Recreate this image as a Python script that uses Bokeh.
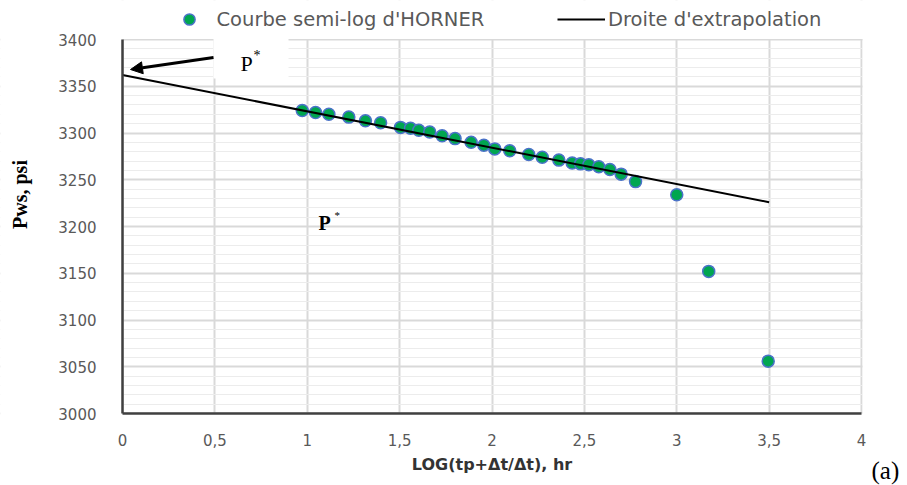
import math
from bokeh.plotting import figure
from bokeh.models import (Range1d, FixedTicker, Legend, LegendItem, Label,
                          BoxAnnotation, Arrow, NormalHead, ColumnDataSource)
from bokeh.embed import file_html
from bokeh.resources import INLINE

# ---- data ----
horner_x = [0.973, 1.045, 1.117, 1.225, 1.315, 1.397, 1.505, 1.559, 1.604, 1.663,
            1.730, 1.800, 1.887, 1.956, 2.015, 2.096, 2.199, 2.272, 2.362, 2.434,
            2.479, 2.524, 2.578, 2.638, 2.699, 2.777, 3.000, 3.173, 3.495]
horner_y = [3324, 3322, 3320, 3317, 3313, 3311, 3306, 3305, 3303, 3301,
            3297, 3294, 3290, 3287, 3283, 3281, 3277, 3274, 3271, 3268,
            3267, 3266, 3264, 3261, 3256, 3248, 3234, 3152, 3056]
line_x = [0.0, 3.5]
line_y = [3362, 3226]

x_ticks = [0, 0.5, 1, 1.5, 2, 2.5, 3, 3.5, 4]
x_tick_labels = ["0", "0,5", "1", "1,5", "2", "2,5", "3", "3,5", "4"]
y_ticks = [3000, 3050, 3100, 3150, 3200, 3250, 3300, 3350, 3400]
y_minor_ticks = list(range(3000, 3401, 10))

series_names = ["Courbe semi-log d'HORNER", "Droite d'extrapolation"]
x_title = "LOG(tp+\u0394t/\u0394t), hr"
y_title = "Pws, psi"
panel_tag = "(a)"

# ---- layout: the frame covers the whole canvas, axes are pinned inside ----
W, H = 907, 485
plot_left, plot_right, plot_top, plot_bottom = 122, 861, 39, 413   # pixels
x0, x1 = x_ticks[0], x_ticks[-1]
y0, y1 = y_ticks[0], y_ticks[-1]
ppx = (plot_right - plot_left) / (x1 - x0)
ppy = (plot_bottom - plot_top) / (y1 - y0)
xr = Range1d(x0 - plot_left / ppx, x1 + (W - plot_right) / ppx)
yr = Range1d(y0 - (H - plot_bottom) / ppy, y1 + plot_top / ppy)


def px_to_x(px):
    return x0 + (px - plot_left) / ppx


def px_to_y(py):
    return y1 - (py - plot_top) / ppy


p = figure(width=W, height=H, output_backend="svg", toolbar_location=None,
           x_range=xr, y_range=yr, min_border=0)
p.outline_line_color = None
p.background_fill_color = "white"
p.border_fill_color = "white"

# grids
p.xgrid.ticker = FixedTicker(ticks=x_ticks)
p.xgrid.grid_line_color = "#d9d9d9"
p.xgrid.grid_line_width = 2
p.ygrid.ticker = FixedTicker(ticks=y_ticks, minor_ticks=y_minor_ticks)
p.ygrid.grid_line_color = "#d9d9d9"
p.ygrid.grid_line_width = 2
p.ygrid.minor_grid_line_color = "#ececec"
p.ygrid.minor_grid_line_width = 1

# white masks so the grid only shows inside the plot area
for kw in (dict(right=x0), dict(left=x1 + 0.006), dict(bottom=y1 + 0.6), dict(top=y0)):
    p.add_layout(BoxAnnotation(fill_color="white", fill_alpha=1.0,
                               line_color=None, level="underlay", **kw))

# axes
xa = p.xaxis[0]
xa.ticker = FixedTicker(ticks=x_ticks)
xa.major_label_overrides = {t: l for t, l in zip(x_ticks, x_tick_labels)}
xa.fixed_location = y0
xa.bounds = (x0, x1)
ya = p.yaxis[0]
ya.ticker = FixedTicker(ticks=y_ticks)
ya.fixed_location = x0
ya.bounds = (y0, y1)
for ax in (xa, ya):
    ax.axis_line_color = "#404040"
    ax.axis_line_width = 2.5
    ax.major_tick_line_color = None
    ax.minor_tick_line_color = None
    ax.major_label_text_font = "DejaVu Sans"
    ax.major_label_text_font_size = "15px"
    ax.major_label_text_color = "#595959"
xa.major_label_standoff = 14
ya.major_label_standoff = 20

xa.axis_label = x_title
xa.axis_label_text_font = "DejaVu Sans"
xa.axis_label_text_font_style = "bold"
xa.axis_label_text_font_size = "16px"
xa.axis_label_text_color = "#333333"
xa.axis_label_standoff = 6

# y title (placed higher than the axis centre, as in the reference)
p.add_layout(Label(x=px_to_x(19), y=px_to_y(194), text=y_title, angle=math.pi / 2,
                   text_font="Liberation Serif", text_font_style="bold",
                   text_font_size="20px", text_color="black",
                   text_align="center", text_baseline="middle"))

# glyphs
src = ColumnDataSource(dict(x=horner_x, y=horner_y))
pts = p.scatter("x", "y", source=src, size=12, fill_color="#00a650",
                line_color="#4a72c8", line_width=1.5)
ln = p.line(line_x, line_y, line_color="black", line_width=2)

# legends (screen positions measured from the frame's bottom-left)
leg1 = Legend(items=[LegendItem(label=series_names[0], renderers=[pts])],
              location=(174.5, 452))
leg2 = Legend(items=[LegendItem(label=series_names[1], renderers=[ln])],
              location=(557, 452))
for lg, gw, so in ((leg1, 28, 14), (leg2, 48, 3)):
    lg.glyph_width = gw
    lg.glyph_height = 28
    lg.label_height = 28
    lg.label_standoff = so
    lg.padding = 0
    lg.margin = 0
    lg.border_line_color = None
    lg.background_fill_alpha = 0
    lg.label_text_font = "DejaVu Sans"
    lg.label_text_font_size = "19.5px"
    lg.label_text_color = "#595959"
    p.add_layout(lg)

# white box behind the P* annotation
p.add_layout(BoxAnnotation(left=px_to_x(213), right=px_to_x(288),
                           bottom=px_to_y(78), top=px_to_y(35),
                           fill_color="white", fill_alpha=1.0, line_color=None))

# arrow pointing at P*
p.add_layout(Arrow(x_start=px_to_x(213), y_start=px_to_y(57),
                   x_end=px_to_x(130), y_end=px_to_y(69),
                   line_color="black", line_width=3,
                   end=NormalHead(size=12, fill_color="black", line_color="black")))

p.add_layout(Label(x=px_to_x(240), y=px_to_y(63), text="P", text_font="Liberation Serif",
                   text_font_size="22px", text_color="black",
                   text_baseline="alphabetic"))
p.add_layout(Label(x=px_to_x(253), y=px_to_y(55), text="*", text_font="Liberation Serif",
                   text_font_size="14px", text_color="black",
                   text_baseline="alphabetic"))

p.add_layout(Label(x=px_to_x(318), y=px_to_y(222), text="P", text_font="Liberation Serif",
                   text_font_size="20px", text_font_style="bold",
                   text_color="black", text_baseline="alphabetic"))
p.add_layout(Label(x=px_to_x(334), y=px_to_y(214), text="*", text_font="Liberation Serif",
                   text_font_size="11px", text_color="black",
                   text_baseline="alphabetic"))

p.add_layout(Label(x=px_to_x(871), y=px_to_y(470), text=panel_tag,
                   text_font="Liberation Serif", text_font_size="25px",
                   text_color="black", text_baseline="middle"))

open("out.html", "w").write(file_html(p, INLINE))
